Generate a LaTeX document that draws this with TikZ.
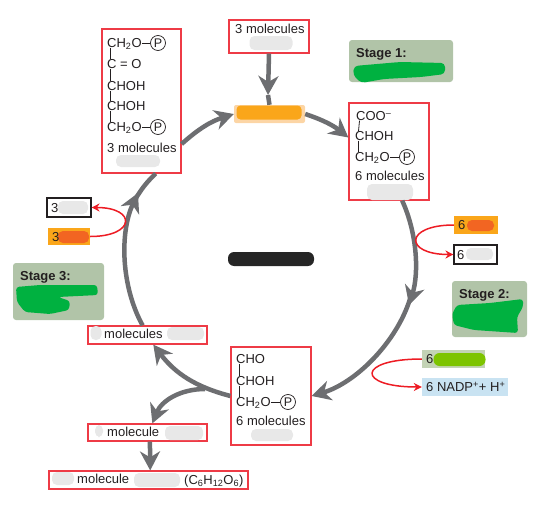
\documentclass[tikz,border=0pt]{standalone}
\usepackage{fontspec}
\setmainfont{Liberation Sans}
\usepackage{xcolor}
\usetikzlibrary{arrows.meta}

\definecolor{boxred}{HTML}{EE3B46}
\definecolor{curvered}{HTML}{ED1C24}
\definecolor{cyclegray}{HTML}{6D6E71}
\definecolor{stagebg}{HTML}{B1C4A8}
\definecolor{scribble}{HTML}{00B140}
\definecolor{amber}{HTML}{FAA61A}
\definecolor{peach}{HTML}{FCD5A5}
\definecolor{burnt}{HTML}{F26522}
\definecolor{lime}{HTML}{7DC400}
\definecolor{limebg}{HTML}{C3D3B5}
\definecolor{paleblue}{HTML}{C9E3F2}
\definecolor{smudgegray}{HTML}{E8E8E8}
\definecolor{inkdark}{HTML}{231F20}

\tikzset{
  every node/.style={font=\fontsize{13}{15}\selectfont, text=inkdark},
  redbox/.style={draw=boxred, line width=1.2pt, inner sep=0pt},
  blackbox/.style={draw=inkdark, line width=1.1pt, fill=white, inner sep=0pt},
  flatbox/.style={inner sep=0pt},
  stagebox/.style={fill=stagebg, rounded corners=3pt, inner sep=0pt},
  smudge/.style={fill=smudgegray, rounded corners=5pt, inner sep=0pt},
  chem/.style={anchor=west, inner sep=0pt, text height=9pt, text depth=0pt},
  phos/.style={draw=inkdark, circle, line width=0.7pt, inner sep=0pt, minimum size=15pt, font=\fontsize{12.5}{14}\selectfont},
  bond/.style={draw=inkdark, line width=0.8pt},
  cycleline/.style={draw=cyclegray, line width=4.5pt},
  cyclearrow/.style={cycleline, -{Stealth[length=19pt,width=20pt,inset=6pt]}},
  redcurve/.style={draw=curvered, line width=1.5pt, -{Stealth[length=8pt,width=8pt]}}
}

\begin{document}
\begin{tikzpicture}[x=1pt, y=-1pt]
  \useasboundingbox (0,0) rectangle (547,514);

  % Red boxes
  \node[redbox, minimum width=79pt, minimum height=144pt] (triose) at (141.5,101) {};
  \node[redbox, minimum width=80pt, minimum height=33pt] (intakebox) at (269,36.5) {};
  \node[redbox, minimum width=80pt, minimum height=97pt] (pga) at (389,151.5) {};
  \node[redbox, minimum width=80pt, minimum height=98pt] (gthree) at (271,396) {};
  \node[redbox, minimum width=119pt, minimum height=18pt] (mols) at (147.5,335) {};
  \node[redbox, minimum width=119pt, minimum height=17pt] (mol) at (147.5,432.5) {};
  \node[redbox, minimum width=199pt, minimum height=18pt] (gluc) at (148.5,480) {};

  % Stage panels
  \node[stagebox, minimum width=104pt, minimum height=42pt] (stageA) at (401,61) {};
  \node[stagebox, minimum width=75pt, minimum height=56pt] (stageB) at (489.5,309) {};
  \node[stagebox, minimum width=91pt, minimum height=57pt] (stageC) at (58.5,291.5) {};
  \node[anchor=west, inner sep=0pt, font=\fontsize{13}{15}\selectfont\bfseries] (stageAtext) at (356,54) {Stage 1:};
  \node[anchor=west, inner sep=0pt, font=\fontsize{13}{15}\selectfont\bfseries] (stageBtext) at (459,295) {Stage 2:};
  \node[anchor=west, inner sep=0pt, font=\fontsize{13}{15}\selectfont\bfseries] (stageCtext) at (20,277) {Stage 3:};

  % Green scribbles
  \fill[scribble, rounded corners=4pt] (354,66) -- (400,62) -- (445,63) -- (445,74) -- (421,77) -- (384,79) -- (361,83) -- (353,75) -- cycle;
  \fill[scribble, rounded corners=3pt] (457,305) -- (490,303) -- (523,299) -- (523,307) -- (517,317) -- (518,333) -- (474,330) -- (454,325) -- (452,314) -- cycle;
  \fill[scribble, rounded corners=3pt] (16,287) -- (40,285) -- (97,285) -- (98,295) -- (58,297) -- (70,301) -- (69,310) -- (50,314) -- (25,312) -- (17,302) -- cycle;

  % Side boxes
  \node[blackbox, minimum width=44pt, minimum height=19pt] (boxthree) at (69,207.5) {};
  \node[flatbox, fill=amber, minimum width=42pt, minimum height=17pt] (orgthree) at (69,236.5) {};
  \node[flatbox, fill=amber, minimum width=44pt, minimum height=18pt] (orgsix) at (476,225) {};
  \node[blackbox, minimum width=43pt, minimum height=19pt] (boxsix) at (475.5,254.5) {};
  \node[flatbox, fill=limebg, minimum width=63pt, minimum height=18pt] (limesix) at (453.5,359) {};
  \node[flatbox, fill=paleblue, minimum width=86pt, minimum height=18pt] (nadp) at (465,387) {};

  % Centre pieces
  \node[flatbox, fill=peach, rounded corners=2pt, minimum width=71pt, minimum height=18pt] (rubp) at (269.5,114) {};
  \node[flatbox, fill=amber, rounded corners=4pt, minimum width=65pt, minimum height=14pt] (rubpink) at (269,112.5) {};
  \node[flatbox, fill=black!85, rounded corners=6pt, minimum width=86pt, minimum height=14pt] (hubmark) at (271,259) {};
  \node[flatbox, fill=burnt, rounded corners=5pt, minimum width=31pt, minimum height=12pt] (burntthree) at (73.5,237) {};
  \node[flatbox, fill=burnt, rounded corners=5pt, minimum width=27pt, minimum height=11pt] (burntsix) at (480.5,225.5) {};
  \node[flatbox, fill=lime, rounded corners=6pt, minimum width=52pt, minimum height=13pt] (limefill) at (459.5,359.5) {};

  % Gray smudges
  \foreach \n/\x/\y/\w/\h in {a/138/161/44/12, b/271/43/43/14, c/390/192/46/16, d/272/435/42/12,
      e/96/333/11/14, f/185.5/333.5/37/13, g/99/431/8/12, h/184/433/38/14,
      i/63/478.5/22/13, j/157/480/46/14, k/73/207.5/30/13, l/479.5/254/27/12} {
    \node[smudge, minimum width=\w pt, minimum height=\h pt] (sm\n) at (\x,\y) {};
  }

  % Cycle arcs
  \coordinate (turnR) at (409,305);
  \coordinate (turnRb) at (410,299);
  \coordinate (turnL) at (138,193);
  \coordinate (turnLb) at (136,198);
  \coordinate (fork) at (205,389);
  \coordinate (intake) at (268,95);
  \draw[cyclearrow] (rubp.east) to[bend left=10] (pga.161);
  \draw[cyclearrow] (pga.-75) to[bend left=21, looseness=0.85] (turnR);
  \draw[cyclearrow] (turnRb) to[bend left=28, looseness=0.85] (gthree.east);
  \draw[cyclearrow] (gthree.west) to[bend left=19] (mols.-59);
  \draw[cyclearrow] (mols.117) to[bend left=27, looseness=0.85] (turnL);
  \draw[cycleline] (turnLb) to[bend left=7] (triose.-79);
  \draw[cyclearrow] (triose.-47) to[bend left=12] (rubp.west);

  % Straight and branch arrows
  \draw[cyclearrow] (intakebox.south) -- (intake);
  \draw[cycleline] (intake) -- (rubp.north);
  \draw[cyclearrow] (fork) to[out=180, in=68] (mol.62);
  \draw[cyclearrow] (mol.-75) -- (gluc.80);

  % Red curves
  \draw[redcurve] (orgthree.east) to[out=0, in=0, looseness=4] (boxthree.east);
  \draw[redcurve] (orgsix.west) to[out=180, in=180, looseness=4.3] (boxsix.west);
  \draw[redcurve] (limesix.west) to[out=180, in=180, looseness=6] (nadp.west);

  % Triose box text
  \node[chem] (triA) at (107,43) {CH\textsubscript{2}O};
  \node[chem] (triB) at (107,64) {C = O};
  \node[chem] (triC) at (107,86) {CHOH};
  \node[chem] (triD) at (107,106) {CHOH};
  \node[chem] (triE) at (107,127) {CH\textsubscript{2}O};
  \node[chem] (triN) at (107,148) {3 molecules};
  \node[phos] (triPa) at (158,43) {P};
  \node[phos] (triPb) at (158,127) {P};
  \draw[bond] (triA.east) -- (triPa.west);
  \draw[bond] (triE.east) -- (triPb.west);
  \foreach \a/\b in {triA/triB, triB/triC, triC/triD, triD/triE} {
    \draw[bond] ([xshift=3.5pt]\a.south west) -- ([xshift=3.5pt]\b.north west);
  }

  % 3PG box text
  \node[chem] (pgaA) at (356,116) {COO\textsuperscript{--}};
  \node[chem] (pgaB) at (355,136) {CHOH};
  \node[chem] (pgaC) at (355,157) {CH\textsubscript{2}O};
  \node[chem] (pgaN) at (355,176) {6 molecules};
  \node[phos] (pgaP) at (407,157) {P};
  \draw[bond] (pgaC.east) -- (pgaP.west);
  \foreach \a/\b in {pgaA/pgaB, pgaB/pgaC} {
    \draw[bond] ([xshift=3.5pt]\a.south west) -- ([xshift=3.5pt]\b.north west);
  }

  % G3P box text
  \node[chem] (gthA) at (236,359) {CHO};
  \node[chem] (gthB) at (236,381) {CHOH};
  \node[chem] (gthC) at (236,402) {CH\textsubscript{2}O};
  \node[chem] (gthN) at (236,421) {6 molecules};
  \node[phos] (gthP) at (288,402) {P};
  \draw[bond] (gthC.east) -- (gthP.west);
  \foreach \a/\b in {gthA/gthB, gthB/gthC} {
    \draw[bond] ([xshift=3.5pt]\a.south west) -- ([xshift=3.5pt]\b.north west);
  }

  % Remaining labels
  \node[chem] (intakelabel) at (235,29) {3 molecules};
  \node[chem] (molslabel) at (104,334) {molecules};
  \node[chem] (mollabel) at (107,432) {molecule};
  \node[chem] (gluclabel) at (77,479) {molecule};
  \node[chem] (glucform) at (184,480) {(C\textsubscript{6}H\textsubscript{12}O\textsubscript{6})};
  \node[chem] (boxthreelabel) at (51,207.5) {3};
  \node[chem] (orgthreelabel) at (52,236.5) {3};
  \node[chem] (orgsixlabel) at (458,225) {6};
  \node[chem] (boxsixlabel) at (457,254.5) {6};
  \node[chem] (limesixlabel) at (426,359) {6};
  \node[chem] (nadplabel) at (426,387) {6 NADP\textsuperscript{+}+ H\textsuperscript{+}};
\end{tikzpicture}
\end{document}
